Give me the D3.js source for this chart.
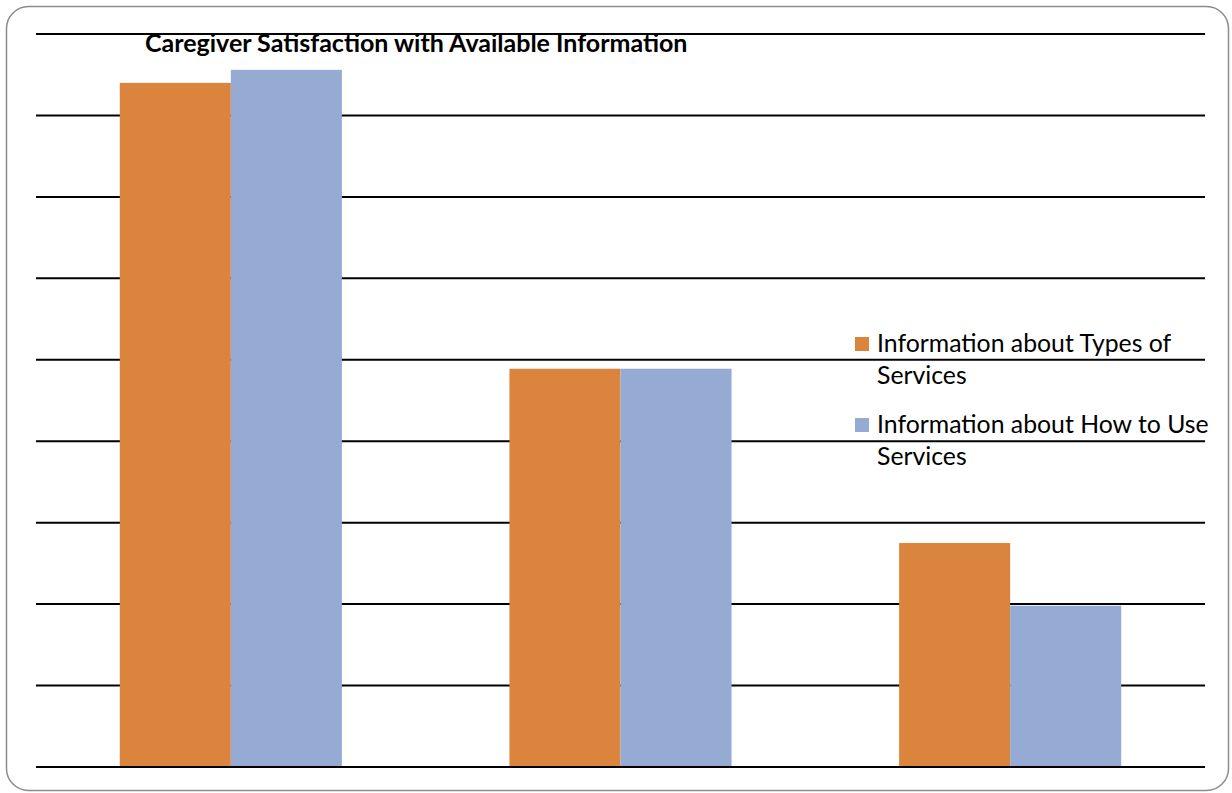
<!DOCTYPE html>
<html>
<head>
<meta charset="utf-8">
<script src="https://cdn.jsdelivr.net/npm/d3@7"></script>
<style>
  body { margin: 0; background: #fff; }
  text { font-family: Lato, "Open Sans", sans-serif; fill: #000; }
</style>
</head>
<body>
<div id="chart"></div>
<script>
// chart data
const categories = ["Group 1", "Group 2", "Group 3"];
const seriesNames = ["Information about Types of Services", "Information about How to Use Services"];
const typesValues = [42.0, 24.45, 13.75];
const howToValues = [42.8, 24.45, 9.9];
const yTicks = [0, 5, 10, 15, 20, 25, 30, 35, 40, 45];

let WIDTH = 1232,
    HEIGHT = 793,
    COLORS = ["#db843d", "#95abd3"];

let svg = d3.select("#chart").append("svg")
    .attr("width", WIDTH)
    .attr("height", HEIGHT);

// outer rounded frame
svg.append("rect")
    .attr("x", 6.5).attr("y", 6.5)
    .attr("width", 1222).attr("height", 784)
    .attr("rx", 22).attr("ry", 22)
    .attr("fill", "#fff")
    .attr("stroke", "#8c8c8c")
    .attr("stroke-width", 1.5);

let x0 = d3.scaleBand()
    .domain(categories)
    .range([36, 1205])
    .paddingInner(0.43)
    .paddingOuter(0.215);

let x1 = d3.scaleBand()
    .domain(seriesNames)
    .range([0, x0.bandwidth()]);

let y = d3.scaleLinear()
    .domain([0, 45])
    .range([767, 34]);

// gridlines
svg.append("g")
    .selectAll("line")
    .data(yTicks)
    .join("line")
    .attr("x1", 36)
    .attr("x2", 1205)
    .attr("y1", d => y(d))
    .attr("y2", d => y(d))
    .attr("stroke", "#000")
    .attr("stroke-width", 2);

// bars
let rows = categories.map((c, i) => ({cat: c, vals: [typesValues[i], howToValues[i]]}));

let group = svg.append("g")
    .selectAll("g")
    .data(rows)
    .join("g")
    .attr("transform", d => `translate(${x0(d.cat)},0)`);

group.selectAll("rect")
    .data(d => d.vals.map((v, j) => ({name: seriesNames[j], v: v, j: j})))
    .join("rect")
    .attr("x", d => x1(d.name))
    .attr("y", d => y(d.v))
    .attr("width", x1.bandwidth())
    .attr("height", d => y(0) - y(d.v))
    .attr("fill", d => COLORS[d.j]);

// baseline on top of bars
svg.append("line")
    .attr("x1", 36).attr("x2", 1205)
    .attr("y1", y(0)).attr("y2", y(0))
    .attr("stroke", "#000")
    .attr("stroke-width", 2);

// title
svg.append("text")
    .attr("x", 145)
    .attr("y", 52)
    .attr("font-size", 25)
    .attr("font-weight", "bold")
    .text("Caregiver Satisfaction with Available Information");

// legend
let legendLines = [["Information about Types of", "Services"], ["Information about How to Use", "Services"]];
let legend = svg.append("g")
    .selectAll("g")
    .data(legendLines)
    .join("g")
    .attr("transform", (d, i) => `translate(855,${337 + i * 81})`);

legend.append("rect")
    .attr("width", 14)
    .attr("height", 14)
    .attr("fill", (d, i) => COLORS[i]);

legend.append("text")
    .attr("x", 22)
    .attr("y", 15)
    .attr("font-size", 24.8)
    .selectAll("tspan")
    .data(d => d)
    .join("tspan")
    .attr("x", 22)
    .attr("dy", (d, i) => i === 0 ? 0 : 32)
    .text(d => d);
</script>
</body>
</html>
